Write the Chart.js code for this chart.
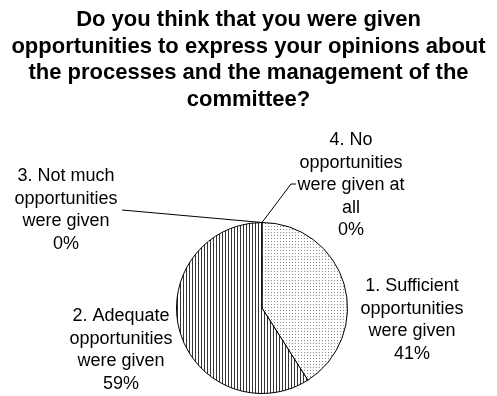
<!DOCTYPE html>
<html>
<head>
<meta charset="utf-8">
<script src="https://cdn.jsdelivr.net/npm/chart.js@4.4.1/dist/chart.umd.min.js"></script>
<style>
  html, body { margin: 0; padding: 0; background: #ffffff; }
  #wrap { width: 497px; height: 396px; }
</style>
</head>
<body>
<div id="wrap"><canvas id="pie" width="497" height="396"></canvas></div>
<script>
// Survey answers and their shares
const titleLines = [
    'Do you think that you were given',
    'opportunities to express your opinions about',
    'the processes and the management of the',
    'committee?'
];
const categories = [
    ['1. Sufficient', 'opportunities', 'were given'],
    ['2. Adequate', 'opportunities', 'were given'],
    ['3. Not much', 'opportunities', 'were given'],
    ['4. No', 'opportunities', 'were given at', 'all']
];
const shares = [41, 59, 0, 0];

// Label placement relative to the pie centre (px): text centre x, first baseline y
const labelSpots = [
    { dx: 150, dy: -17 },
    { dx: -141, dy: 13 },
    { dx: -196, dy: -127, leader: [[-140, -98]] },
    { dx: 89, dy: -163, leader: [[29, -124], [34, -124]] }
];

const fontFamily = '"Liberation Sans", Arial, sans-serif';

// Fill patterns: fine grey dots and thin vertical hatching
function dotPattern() {
    const c = document.createElement('canvas');
    c.width = 3; c.height = 3;
    const g = c.getContext('2d');
    g.fillStyle = '#ffffff';
    g.fillRect(0, 0, 3, 3);
    g.fillStyle = '#8a8a8a';
    g.fillRect(1, 1, 1, 1);
    return g.createPattern(c, 'repeat');
}
function stripePattern() {
    const c = document.createElement('canvas');
    c.width = 3; c.height = 3;
    const g = c.getContext('2d');
    g.fillStyle = '#ffffff';
    g.fillRect(0, 0, 3, 3);
    g.fillStyle = '#333333';
    g.fillRect(0, 0, 1, 3);
    return g.createPattern(c, 'repeat');
}

const fills = [dotPattern(), stripePattern(), '#ffffff', '#ffffff'];

const pieLabels = {
    id: 'pieLabels',
    afterDraw(chart) {
        const ctx = chart.ctx;
        ctx.save();
        ctx.fillStyle = '#000000';
        ctx.textAlign = 'center';
        ctx.textBaseline = 'alphabetic';

        // title
        ctx.font = 'bold 22px ' + fontFamily;
        titleLines.forEach((line, i) => {
            ctx.fillText(line, chart.width / 2, 26 + i * 26.5);
        });

        const arcs = chart.getDatasetMeta(0).data;
        ctx.font = '18px ' + fontFamily;
        arcs.forEach((arc, i) => {
            const p = arc.getProps(['x', 'y', 'startAngle', 'endAngle', 'outerRadius'], true);
            const spot = labelSpots[i];
            const lines = categories[i].concat([shares[i] + '%']);
            const lx = p.x + spot.dx;
            const ly = p.y + spot.dy;
            lines.forEach((t, k) => {
                ctx.fillText(t, lx, ly + k * 22.5);
            });
            if (spot.leader) {
                const mid = (p.startAngle + p.endAngle) / 2;
                ctx.beginPath();
                ctx.moveTo(p.x + Math.cos(mid) * p.outerRadius, p.y + Math.sin(mid) * p.outerRadius);
                spot.leader.forEach(pt => ctx.lineTo(p.x + pt[0], p.y + pt[1]));
                ctx.strokeStyle = '#000000';
                ctx.lineWidth = 1;
                ctx.stroke();
            }
        });
        ctx.restore();
    }
};

new Chart(document.getElementById('pie'), {
    type: 'pie',
    data: {
        labels: categories,
        datasets: [{
            data: shares,
            backgroundColor: fills,
            borderColor: '#000000',
            borderWidth: 1
        }]
    },
    options: {
        responsive: false,
        animation: false,
        layout: {
            padding: { left: 176, right: 149, top: 222, bottom: 2 }
        },
        plugins: {
            legend: { display: false },
            title: { display: false },
            tooltip: { enabled: false }
        }
    },
    plugins: [pieLabels]
});
</script>
</body>
</html>
